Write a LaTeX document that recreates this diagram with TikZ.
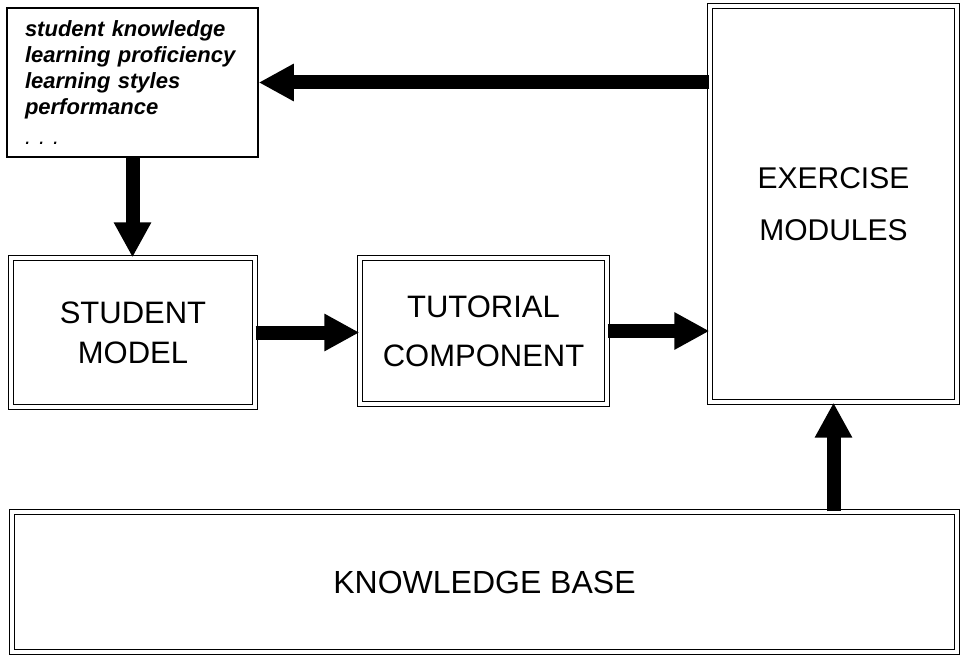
\documentclass[tikz,border=0pt]{standalone}
\usepackage{fontspec}
\setmainfont{Liberation Sans}
\usetikzlibrary{arrows.meta, positioning}

\begin{document}
\begin{tikzpicture}[x=1pt, y=-1pt,
    block/.style={rectangle, draw, double, double distance=3.5pt, line width=1.2pt,
                  align=center, inner sep=0pt, font=\fontsize{31}{40}\selectfont},
    notes/.style={rectangle, draw, line width=1.5pt, align=left, text width=215pt,
                  inner xsep=18pt, minimum height=149pt,
                  font=\fontsize{22}{26}\selectfont\bfseries\itshape},
    bigarrow/.style={line width=14pt, -{Triangle[length=35pt, width=35pt]}}]

    \useasboundingbox (0,0) rectangle (962,658);

    % Boxes
    \node[notes] (info) at (132.5, 82.5) {student knowledge\\learning proficiency\\learning styles\\performance\\[4pt]\mdseries .\hspace{8pt}.\hspace{8pt}.};
    \node[block, minimum width=244pt, minimum height=149pt] (sm) at (133, 332.5) {STUDENT\\MODEL};
    \node[block, minimum width=247pt, minimum height=146pt,
          font=\fontsize{31}{49}\selectfont] (tc) at (483.5, 331) {TUTORIAL\\COMPONENT};
    \node[block, minimum width=247pt, minimum height=396pt,
          font=\fontsize{30}{52}\selectfont] (em) at (833.5, 204) {EXERCISE\\MODULES};
    \node[block, minimum width=945pt, minimum height=140pt,
          font=\fontsize{32}{40}\selectfont] (kb) at (484.5, 582) {KNOWLEDGE BASE};

    % Arrows
    \draw[bigarrow] (em.west |- info.east) -- (info.east);
    \draw[bigarrow] (info.south) -- (info.south |- sm.north);
    \draw[bigarrow] (sm.east) -- (sm.east -| tc.west);
    \draw[bigarrow] (tc.east) -- (tc.east -| em.west);
    \draw[bigarrow] (kb.north -| em.south) -- (em.south);
\end{tikzpicture}
\end{document}
